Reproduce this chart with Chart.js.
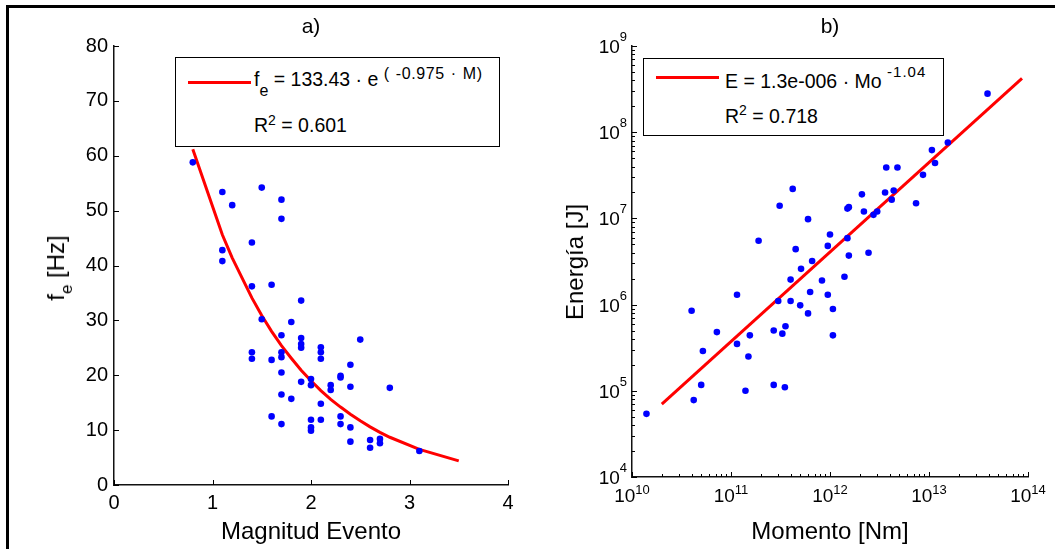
<!DOCTYPE html>
<html>
<head>
<meta charset="utf-8">
<script src="https://cdn.jsdelivr.net/npm/chart.js@4.4.0/dist/chart.umd.min.js"></script>
<style>
html, body { margin: 0; padding: 0; background: #fff; }
body { width: 1055px; height: 549px; position: relative; overflow: hidden;
       font-family: "Liberation Sans", Arial, sans-serif; color: #000; }
.marco { position: absolute; left: 6px; top: 5px; width: 1080px; height: 580px; border: 3px solid #000; }
canvas { position: absolute; top: 0; }
.t { position: absolute; white-space: nowrap; line-height: 1; }
.rot { transform: translate(-50%, -50%) rotate(-90deg); }
.leg { position: absolute; box-sizing: border-box; border: 1.5px solid #000; background: #fff; }
.linea { position: absolute; height: 3px; background: #ff0000; }
</style>
</head>
<body>
<div class="marco"></div>
<canvas id="graficoA" width="545" height="549" style="left:0"></canvas>
<canvas id="graficoB" width="510" height="549" style="left:545px"></canvas>

<!-- titoli dei pannelli -->
<div class="t" style="left:311px;top:15px;font-size:21px;transform:translateX(-50%)">a)</div>
<div class="t" style="left:830px;top:15px;font-size:21px;transform:translateX(-50%)">b)</div>

<!-- titoli degli assi -->
<div class="t" style="left:311px;top:519px;font-size:24px;transform:translateX(-50%)">Magnitud Evento</div>
<div class="t" style="left:830px;top:519px;font-size:24px;transform:translateX(-50%)">Momento [Nm]</div>
<div class="t rot" style="left:56px;top:268px;font-size:24px">f<span style="font-size:17px;position:relative;top:8px">e</span> [Hz]</div>
<div class="t rot" style="left:575px;top:262px;font-size:24px">Energía [J]</div>

<!-- leyenda a) -->
<div class="leg" style="left:175px;top:57px;width:325px;height:90px"></div>
<div class="linea" style="left:188px;top:81px;width:63px"></div>
<div class="t" style="left:254px;top:70px;font-size:19.5px">f<span style="font-size:16px;position:relative;top:10px">e</span> = 133.43 · e <span style="font-size:16px;position:relative;top:-7px;letter-spacing:0.6px;word-spacing:1px">( -0.975 · M)</span></div>
<div class="t" style="left:254px;top:116px;font-size:19.5px">R<span style="font-size:14px;position:relative;top:-7px">2</span> = 0.601</div>

<!-- leyenda b) -->
<div class="leg" style="left:643px;top:58px;width:301px;height:78px"></div>
<div class="linea" style="left:656px;top:76px;width:63px"></div>
<div class="t" style="left:725px;top:72px;font-size:19.5px">E = 1.3e-006 · Mo <span style="font-size:15px;position:relative;top:-11px;letter-spacing:1px">-1.04</span></div>
<div class="t" style="left:725px;top:107px;font-size:19.5px">R<span style="font-size:14px;position:relative;top:-8px">2</span> = 0.718</div>

<script>
// ── Datos panel a): magnitud del evento vs frecuencia f_e ────────────────
const magnitud = [0.8, 1.1, 1.5, 1.2, 1.7, 1.7, 1.4, 1.1, 1.1, 1.4, 1.6, 1.9, 1.5, 1.8,
                  1.7, 1.9, 1.9, 1.9, 2.1, 2.1, 2.1, 2.5, 1.4, 1.4, 1.6, 1.7, 1.7, 2.4,
                  1.7, 2.3, 2.3, 2.0, 1.9, 2.0, 2.2, 2.2, 2.4, 2.8, 1.7, 1.8, 2.1, 1.6,
                  2.0, 2.1, 2.3, 1.7, 2.3, 2.4, 2.0, 2.0, 2.4, 2.6, 2.6, 2.7, 2.7, 3.1];
const frecuencia = [58.8, 53.4, 54.2, 51.0, 52.0, 48.5, 44.2, 42.8, 40.8, 36.2, 36.5, 33.6, 30.2, 29.7,
                    27.3, 26.8, 25.7, 25.0, 25.1, 24.2, 23.0, 26.5, 24.2, 23.0, 22.8, 24.2, 23.3, 21.9,
                    20.5, 19.9, 19.6, 19.3, 18.8, 18.2, 18.2, 17.3, 17.9, 17.7, 16.5, 15.7, 14.8, 12.5,
                    11.9, 11.9, 12.5, 11.1, 11.1, 10.5, 10.5, 9.9, 7.9, 8.2, 6.8, 8.4, 7.6, 6.2];
// curva de ajuste
const ajusteMag = [0.8, 1.1, 1.2, 1.4, 1.5, 1.6, 1.7, 1.8, 1.9, 2.0, 2.1, 2.2, 2.3, 2.4, 2.5, 2.6, 2.7, 2.8, 3.1, 3.5];
const ajusteFe  = [61.2, 45.6, 41.4, 34.1, 30.9, 28.0, 25.4, 23.1, 20.9, 19.0, 17.2, 15.6, 14.2, 12.9, 11.7, 10.6, 9.6, 8.7, 6.5, 4.4];
const ticksXA = [0, 1, 2, 3, 4];
const ticksYA = [0, 10, 20, 30, 40, 50, 60, 70, 80];

// ── Datos panel b): momento sísmico vs energía ───────────────────────────
const momento = [4.2e11, 3.1e11, 6.0e11, 1.0e12, 1.9e11, 4.5e11, 9.5e11, 6.6e11, 1.5e12, 1.55e12,
                 2.45e12, 5.1e11, 4.0e11, 8.3e11, 1.4e12, 6.3e11, 9.5e11, 1.15e11, 3.0e11, 4.0e11,
                 5.0e11, 1.07e12, 6.0e11, 4.0e10, 7.2e10, 2.7e11, 3.55e11, 3.3e11, 1.55e11, 1.07e12,
                 1.15e11, 5.2e10, 1.5e11, 5.0e10, 2.7e11, 3.5e11, 1.4e11, 4.2e10, 1.4e10, 3.9e13,
                 1.55e13, 1.07e13, 1.15e13, 3.7e12, 4.8e12, 8.7e12, 2.1e12, 3.6e12, 4.4e12, 4.2e12,
                 7.4e12, 1.5e12, 1.55e12, 2.2e12, 2.75e12, 3.0e12];
const energia = [2.2e7, 1.4e7, 9.8e6, 6.5e6, 5.5e6, 4.4e6, 4.8e6, 3.2e6, 5.9e6, 3.7e6,
                 4.0e6, 2.6e6, 1.95e6, 1.9e6, 2.1e6, 1.4e6, 1.3e6, 1.3e6, 1.1e6, 1.1e6,
                 9.8e5, 8.9e5, 7.9e5, 8.5e5, 4.8e5, 5.0e5, 5.6e5, 4.6e5, 4.4e5, 4.4e5,
                 3.5e5, 2.9e5, 2.5e5, 1.17e5, 1.17e5, 1.1e5, 1.0e5, 7.8e4, 5.4e4, 2.8e8,
                 7.6e7, 6.2e7, 4.4e7, 3.9e7, 3.9e7, 3.2e7, 1.9e7, 2.0e7, 2.1e7, 1.65e7,
                 1.5e7, 1.3e7, 1.35e7, 1.2e7, 1.1e7, 1.2e7];
const ajusteMo = [2.0e10, 8.7e13];
const ajusteE  = [7.0e4, 4.2e8];
const expX = [10, 11, 12, 13, 14];
const expY = [4, 5, 6, 7, 8, 9];

const FUENTE = '"Liberation Sans", Arial, sans-serif';
const AZUL = '#0000ff', ROJO = '#ff0000';

// tacche interne stile MATLAB (verso l'interno dell'area del grafico)
const tacchePlugin = {
    id: 'tacche',
    afterDraw(chart, args, opts) {
        const { ctx, chartArea: a, scales: { x, y } } = chart;
        ctx.save();
        ctx.strokeStyle = '#000';
        ctx.lineWidth = 1;
        ctx.beginPath();
        for (const [v, len] of opts.xt) {
            const px = Math.round(x.getPixelForValue(v)) + 0.5;
            ctx.moveTo(px, a.bottom);
            ctx.lineTo(px, a.bottom - len);
        }
        for (const [v, len] of opts.yt) {
            const py = Math.round(y.getPixelForValue(v)) + 0.5;
            ctx.moveTo(a.left, py);
            ctx.lineTo(a.left + len, py);
        }
        ctx.stroke();
        ctx.restore();
    }
};

// etichette 10^n con esponente in apice
const potenzePlugin = {
    id: 'potenze',
    afterDraw(chart) {
        const { ctx, chartArea: a, scales: { x, y } } = chart;
        ctx.save();
        ctx.fillStyle = '#000';
        ctx.textBaseline = 'alphabetic';
        const fBase = '19px ' + FUENTE, fExp = '13px ' + FUENTE;
        for (const e of expY) {
            const py = y.getPixelForValue(Math.pow(10, e));
            ctx.font = fExp;
            const we = ctx.measureText(String(e)).width;
            ctx.textAlign = 'right';
            ctx.fillText(String(e), a.left - 5, py - 5);
            ctx.font = fBase;
            ctx.fillText('10', a.left - 5 - we, py + 7);
        }
        for (const e of expX) {
            const px = x.getPixelForValue(Math.pow(10, e));
            ctx.font = fBase;
            const wb = ctx.measureText('10').width;
            ctx.font = fExp;
            const we = ctx.measureText(String(e)).width;
            const x0 = px - (wb + we) / 2;
            ctx.textAlign = 'left';
            ctx.fillText(String(e), x0 + wb, a.bottom + 17);
            ctx.font = fBase;
            ctx.fillText('10', x0, a.bottom + 25);
        }
        ctx.restore();
    }
};

function asseBase() {
    return {
        grid: { display: true, drawOnChartArea: false, drawTicks: false },
        border: { display: true, color: '#111', width: 1.5 },
    };
}

// ── Panel a) ─────────────────────────────────────────────────────────────
new Chart(document.getElementById('graficoA').getContext('2d'), {
    type: 'scatter',
    data: {
        datasets: [{
            data: magnitud.map((m, i) => ({ x: m, y: frecuencia[i] })),
            backgroundColor: AZUL, borderColor: AZUL,
            pointRadius: 3.3, pointBorderWidth: 0, showLine: false
        }, {
            type: 'line',
            data: ajusteMag.map((m, i) => ({ x: m, y: ajusteFe[i] })),
            borderColor: ROJO, borderWidth: 3, pointRadius: 0, tension: 0, fill: false
        }]
    },
    options: {
        responsive: false,
        animation: false,
        layout: { padding: { top: 46, right: 37, left: 0, bottom: 0 } },
        plugins: {
            legend: { display: false },
            tooltip: { enabled: false },
            tacche: {
                xt: ticksXA.map(v => [v, 5]),
                yt: ticksYA.map(v => [v, 5])
            }
        },
        scales: {
            x: {
                type: 'linear', min: 0, max: 4,
                ...asseBase(),
                afterBuildTicks: s => { s.ticks = ticksXA.map(v => ({ value: v })); },
                afterFit: s => { s.height = 64; },
                ticks: { color: '#000', padding: 6, maxRotation: 0, font: { family: FUENTE, size: 20 } }
            },
            y: {
                type: 'linear', min: 0, max: 80,
                ...asseBase(),
                afterBuildTicks: s => { s.ticks = ticksYA.map(v => ({ value: v })); },
                afterFit: s => { s.width = 114; },
                ticks: { color: '#000', padding: 6, font: { family: FUENTE, size: 20 } }
            }
        }
    },
    plugins: [tacchePlugin]
});

// ── Panel b) ─────────────────────────────────────────────────────────────
const tacLogX = [], tacLogY = [];
for (let e = 10; e < 14; e++) for (let m = 1; m < 10; m++) tacLogX.push([m * Math.pow(10, e), m === 1 ? 5 : 3]);
tacLogX.push([1e14, 5]);
for (let e = 4; e < 9; e++) for (let m = 1; m < 10; m++) tacLogY.push([m * Math.pow(10, e), m === 1 ? 5 : 3]);
tacLogY.push([1e9, 5]);

new Chart(document.getElementById('graficoB').getContext('2d'), {
    type: 'scatter',
    data: {
        datasets: [{
            data: momento.map((m, i) => ({ x: m, y: energia[i] })),
            backgroundColor: AZUL, borderColor: AZUL,
            pointRadius: 3.3, pointBorderWidth: 0, showLine: false
        }, {
            type: 'line',
            data: ajusteMo.map((m, i) => ({ x: m, y: ajusteE[i] })),
            borderColor: ROJO, borderWidth: 3, pointRadius: 0, tension: 0, fill: false
        }]
    },
    options: {
        responsive: false,
        animation: false,
        layout: { padding: { top: 46, right: 27, left: 0, bottom: 0 } },
        plugins: {
            legend: { display: false },
            tooltip: { enabled: false },
            tacche: { xt: tacLogX, yt: tacLogY }
        },
        scales: {
            x: {
                type: 'logarithmic', min: 1e10, max: 1e14,
                ...asseBase(),
                afterFit: s => { s.height = 72; },
                ticks: { display: false }
            },
            y: {
                type: 'logarithmic', min: 1e4, max: 1e9,
                ...asseBase(),
                afterFit: s => { s.width = 87; },
                ticks: { display: false }
            }
        }
    },
    plugins: [tacchePlugin, potenzePlugin]
});
</script>
</body>
</html>
